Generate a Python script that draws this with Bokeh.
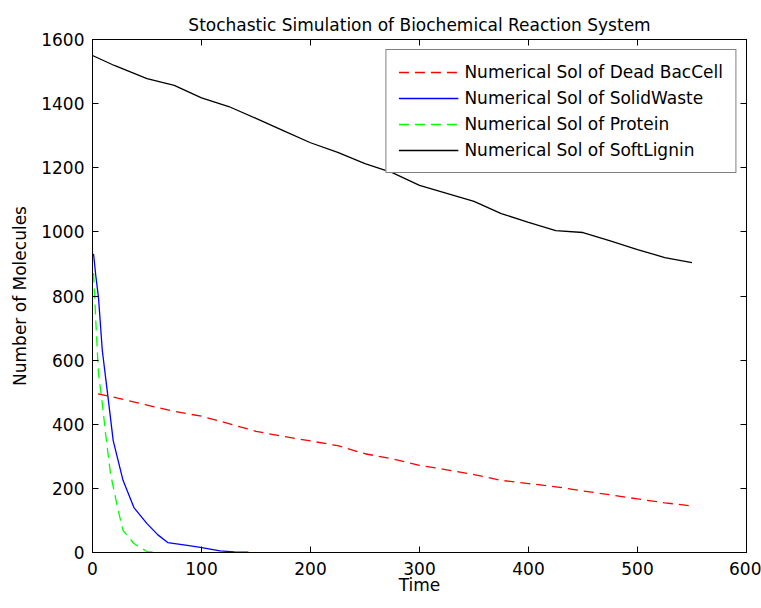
from bokeh.plotting import figure
from bokeh.models import Range1d, FixedTicker, LinearAxis, Legend, LegendItem
from bokeh.embed import file_html
from bokeh.resources import INLINE

# Data
t_dead = [5, 25, 50, 75, 100, 125, 150, 175, 200, 225, 250, 275, 300, 325, 350, 375, 400, 425, 450, 475, 500, 525, 550]
dead_baccell = [495, 480, 460, 440, 425, 402, 378, 362, 348, 333, 308, 292, 272, 258, 243, 225, 215, 205, 192, 180, 167, 155, 145]

t_solid = [0, 1, 3, 5.5, 9, 13.5, 19, 28, 38, 50, 60, 69, 87, 99, 117, 130, 143]
solid_waste = [930, 930, 864, 795, 630, 505, 349, 225, 140, 90, 55, 31, 22, 16, 5, 2, 1]

t_protein = [0, 1, 3, 5.5, 9, 12, 16.5, 23, 28, 38, 50, 60]
protein = [870, 870, 724, 558, 465, 371, 246, 140, 69, 28, 3, 0]

t_lignin = [0, 20, 50, 75, 100, 125, 150, 175, 200, 225, 250, 275, 300, 325, 350, 375, 400, 425, 450, 475, 500, 525, 550]
soft_lignin = [1550, 1519, 1478, 1457, 1418, 1391, 1354, 1316, 1278, 1248, 1213, 1185, 1145, 1120, 1095, 1057, 1030, 1004, 998, 972, 945, 920, 904]

x_ticks = [0, 100, 200, 300, 400, 500, 600]
y_ticks = [0, 200, 400, 600, 800, 1000, 1200, 1400, 1600]

FONT = "DejaVu Sans"
FS = "17px"

p = figure(width=761, height=608, output_backend="svg", toolbar_location=None,
           x_range=Range1d(0, 600), y_range=Range1d(0, 1600),
           min_border_left=92, min_border_right=15, min_border_top=39, min_border_bottom=56,
           title="Stochastic Simulation of Biochemical Reaction System")
p.title.align = "center"
p.title.text_font = FONT
p.title.text_font_size = FS
p.title.text_font_style = "normal"
p.title.text_color = "#000000"

p.xgrid.visible = False
p.ygrid.visible = False
p.outline_line_color = "black"
p.outline_line_width = 1
p.background_fill_color = "white"
p.border_fill_color = "white"

def style_axis(ax, show_labels=True):
    ax.axis_line_color = "black"
    ax.major_tick_in = 6
    ax.major_tick_out = 0
    ax.minor_tick_line_color = None
    ax.major_tick_line_color = "black"
    ax.major_label_text_font = FONT
    ax.major_label_text_font_size = FS
    ax.major_label_text_color = "black" if show_labels else None
    ax.axis_label_text_font = FONT
    ax.axis_label_text_font_size = FS
    ax.axis_label_text_font_style = "normal"
    ax.axis_label_text_color = "black"

p.xaxis.ticker = FixedTicker(ticks=x_ticks)
p.yaxis.ticker = FixedTicker(ticks=y_ticks)
p.xaxis.axis_label = "Time"
p.yaxis.axis_label = "Number of Molecules"
style_axis(p.xaxis[0])
style_axis(p.yaxis[0])
p.xaxis.major_label_standoff = 9
p.xaxis.axis_label_standoff = -3
p.yaxis.major_label_standoff = 8
p.yaxis.axis_label_standoff = 8

top_ax = LinearAxis(ticker=FixedTicker(ticks=x_ticks))
style_axis(top_ax, show_labels=False)
top_ax.major_label_text_font_size = "0px"
p.add_layout(top_ax, "above")
right_ax = LinearAxis(ticker=FixedTicker(ticks=y_ticks))
style_axis(right_ax, show_labels=False)
right_ax.major_label_text_font_size = "0px"
p.add_layout(right_ax, "right")

r1 = p.line(t_dead, dead_baccell, line_color="#ff0000", line_width=1.3, line_dash="10 6")
r2 = p.line(t_solid, solid_waste, line_color="#0000ff", line_width=1.3)
r3 = p.line(t_protein, protein, line_color="#00ff00", line_width=1.3, line_dash="10 6")
r4 = p.line(t_lignin, soft_lignin, line_color="#000000", line_width=1.3)

legend = Legend(items=[
    LegendItem(label="Numerical Sol of Dead BacCell", renderers=[r1]),
    LegendItem(label="Numerical Sol of SolidWaste", renderers=[r2]),
    LegendItem(label="Numerical Sol of Protein", renderers=[r3]),
    LegendItem(label="Numerical Sol of SoftLignin", renderers=[r4]),
], location="top_right")
legend.margin = 10
legend.padding = 12
legend.spacing = 6
legend.glyph_width = 60
legend.glyph_height = 20
legend.label_height = 20
legend.label_standoff = 6
legend.label_text_font = FONT
legend.label_text_font_size = FS
legend.label_text_color = "black"
legend.border_line_color = "black"
legend.border_line_width = 1
legend.background_fill_color = "white"
legend.background_fill_alpha = 1.0
p.add_layout(legend, "center")

open("out.html", "w").write(file_html(p, INLINE))
